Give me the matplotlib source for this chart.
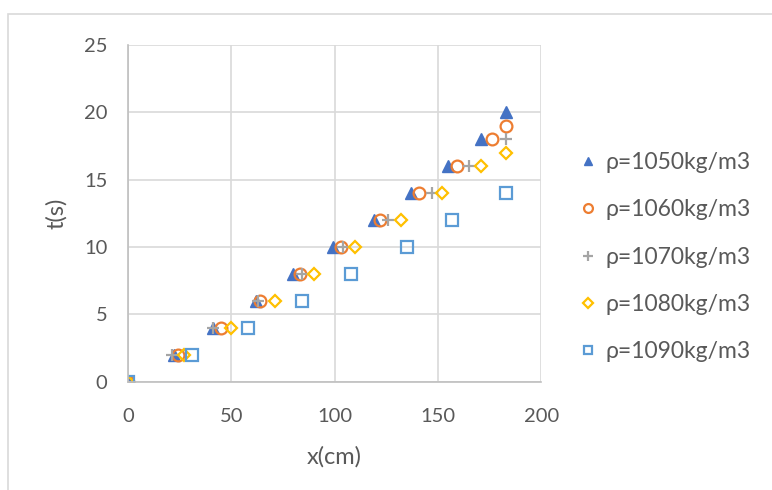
import matplotlib.pyplot as plt
from matplotlib.patches import Rectangle

plt.rcParams['font.family'] = ['Lato', 'DejaVu Sans']

# time steps (s) and measured distances (cm) for each density
t_1050 = [0, 2, 4, 6, 8, 10, 12, 14, 16, 18, 20]
x_1050 = [0, 22, 41, 62, 80, 99, 119, 137, 155, 171, 183]

t_1060 = [0, 2, 4, 6, 8, 10, 12, 14, 16, 18, 19]
x_1060 = [0, 24, 45, 64, 83, 103, 122, 141, 159, 176, 183]

t_1070 = [0, 2, 4, 6, 8, 10, 12, 14, 16, 18]
x_1070 = [0, 21, 41, 63, 84, 104, 126, 147, 165, 183]

t_1080 = [0, 2, 4, 6, 8, 10, 12, 14, 16, 17]
x_1080 = [0, 27, 50, 71, 90, 110, 132, 152, 171, 183]

t_1090 = [0, 2, 4, 6, 8, 10, 12, 14]
x_1090 = [0, 31, 58, 84, 108, 135, 157, 183]

labels = ['ρ=1050kg/m3', 'ρ=1060kg/m3', 'ρ=1070kg/m3', 'ρ=1080kg/m3', 'ρ=1090kg/m3']

text_col = '#595959'

fig = plt.figure(figsize=(7.72, 4.9), dpi=100)
# chart frame
fig.patches.append(Rectangle((8 / 772, -0.1), 1.2, 1.1 - 14 / 490,
                             transform=fig.transFigure, fill=False,
                             edgecolor='#d9d9d9', lw=1.2))
ax = fig.add_axes([0.166, 0.221, 0.535, 0.687])

ax.plot(x_1050, t_1050, '^', color='#4472c4', ms=8, ls='none', label=labels[0])
ax.plot(x_1060, t_1060, 'o', mfc='none', mec='#ed7d31', mew=1.6, ms=8.5, ls='none', label=labels[1])
ax.plot(x_1070, t_1070, '+', color='#a5a5a5', mew=1.6, ms=9, ls='none', label=labels[2])
ax.plot(x_1080, t_1080, 'D', mfc='none', mec='#ffc000', mew=1.6, ms=6.5, ls='none', label=labels[3])
ax.plot(x_1090, t_1090, 's', mfc='none', mec='#5b9bd5', mew=1.6, ms=8, ls='none', label=labels[4])

ax.set_xlim(0, 200)
ax.set_ylim(0, 25)
ax.set_xticks(range(0, 201, 50))
ax.set_yticks(range(0, 26, 5))
ax.grid(True, color='#d9d9d9', lw=1.2)
ax.set_axisbelow(True)
for s in ['top', 'right']:
    ax.spines[s].set_visible(False)
for s in ['left', 'bottom']:
    ax.spines[s].set_color('#bfbfbf')
    ax.spines[s].set_linewidth(1.2)
ax.tick_params(length=0, labelsize=14.5, labelcolor=text_col)
ax.tick_params(axis='x', pad=19)
ax.tick_params(axis='y', pad=15)

ax.set_xlabel('x(cm)', fontsize=17, color=text_col, labelpad=15)
ax.set_ylabel('t(s)', fontsize=17, color=text_col, labelpad=12)

ax.legend(loc='center left', bbox_to_anchor=(1.05, 0.37), frameon=False,
          fontsize=16.5, labelcolor=text_col, handlelength=0.5, markerscale=0.75,
          handletextpad=0.5, labelspacing=1.15)

plt.savefig('out.png', dpi=100)
